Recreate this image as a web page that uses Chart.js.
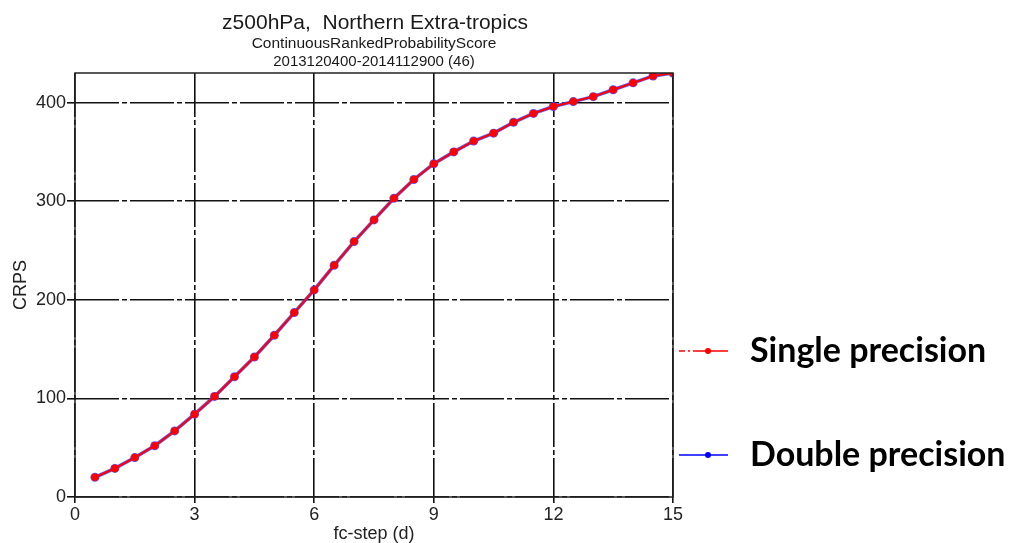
<!DOCTYPE html>
<html>
<head>
<meta charset="utf-8">
<script src="https://cdn.jsdelivr.net/npm/chart.js@4"></script>
<style>
  html, body { margin: 0; padding: 0; background: #fff; }
  #wrap { width: 1015px; height: 543px; }
</style>
</head>
<body>
<div id="wrap"><canvas id="myChart" width="1015" height="543"></canvas></div>
<script>
// forecast step in days
const steps = [0.5, 1, 1.5, 2, 2.5, 3, 3.5, 4, 4.5, 5, 5.5, 6, 6.5, 7, 7.5,
               8, 8.5, 9, 9.5, 10, 10.5, 11, 11.5, 12, 12.5, 13, 13.5, 14, 14.5, 15];
const singleCrps = [20, 29, 40, 52, 67, 84, 102, 122, 142, 164, 187, 210, 235, 259, 281,
                    303, 322, 338, 350, 361, 369, 380, 389, 396, 401, 406, 413, 420, 427, 430];
const doubleCrps = [20, 29, 40, 52, 67, 84, 102, 122, 142, 164, 187, 210, 235, 259, 281,
                    303, 322, 338, 350, 361, 369, 380, 389, 396, 401, 406, 413, 420, 427, 430];
const xTicks = [0, 3, 6, 9, 12, 15];
const yTicks = [0, 100, 200, 300, 400];
const seriesNames = ['Single precision', 'Double precision'];

const ctx = document.getElementById('myChart').getContext('2d');
const helv = '"Liberation Sans", Arial, sans-serif';

const pts = vals => steps.map((s, i) => ({ x: s, y: vals[i] }));

// titles, frame and the big legend on the right
const extras = {
  id: 'extras',
  beforeDraw(chart) {
    const c = chart.ctx;
    const a = chart.chartArea;
    const mid = (a.left + a.right) / 2;
    c.save();
    c.fillStyle = '#1a1a1a';
    c.textAlign = 'center';
    c.textBaseline = 'alphabetic';
    c.font = '21px ' + helv;
    c.fillText('z500hPa,  Northern Extra-tropics', mid + 1, 29);
    c.font = '15.5px ' + helv;
    c.fillText('ContinuousRankedProbabilityScore', mid, 48);
    c.font = '15px ' + helv;
    c.fillText('2013120400-2014112900 (46)', mid, 66);
    c.restore();
  },
  afterDatasetsDraw(chart) {
    const c = chart.ctx;
    const a = chart.chartArea;
    c.save();
    c.strokeStyle = '#222';
    c.lineWidth = 1.5;
    c.strokeRect(a.left, a.top, a.right - a.left, a.bottom - a.top);

    const rows = [
      { y: 351, color: '#ff0000' },
      { y: 455, color: '#0000ff' }
    ];
    rows.forEach((it, i) => {
      c.strokeStyle = it.color;
      c.lineWidth = 1.5;
      if (i === 0) {
        // dash-dot start, like the reference key
        c.beginPath();
        c.moveTo(679, it.y); c.lineTo(685, it.y);
        c.moveTo(688, it.y); c.lineTo(690, it.y);
        c.moveTo(693, it.y); c.lineTo(728, it.y);
        c.stroke();
      } else {
        c.beginPath();
        c.moveTo(679, it.y); c.lineTo(728, it.y);
        c.stroke();
      }
      c.fillStyle = it.color;
      c.beginPath();
      c.arc(708, it.y, 3, 0, Math.PI * 2);
      c.fill();
      c.fillStyle = '#000';
      c.font = 'bold 34px Lato, "Open Sans", sans-serif';
      c.textBaseline = 'middle';
      c.textAlign = 'left';
      c.fillText(seriesNames[i], 750, it.y);
    });
    c.restore();
  }
};

new Chart(ctx, {
  type: 'line',
  data: {
    datasets: [
      {
        label: seriesNames[1],
        data: pts(doubleCrps),
        borderColor: 'rgba(70,70,255,0.9)',
        backgroundColor: 'rgba(70,70,255,0.9)',
        borderWidth: 3.5,
        pointRadius: 4.5,
        pointBorderWidth: 0,
        tension: 0,
        order: 2
      },
      {
        label: seriesNames[0],
        data: pts(singleCrps),
        borderColor: '#ff0000',
        backgroundColor: '#ff0000',
        borderWidth: 2,
        pointRadius: 3.8,
        pointBorderWidth: 0,
        tension: 0,
        order: 1
      }
    ]
  },
  options: {
    responsive: false,
    animation: false,
    layout: { padding: { top: 73, right: 342, left: 0, bottom: 0 } },
    plugins: {
      legend: { display: false },
      tooltip: { enabled: false }
    },
    scales: {
      x: {
        type: 'linear',
        min: 0,
        max: 15,
        afterBuildTicks: s => { s.ticks = xTicks.map(v => ({ value: v })); },
        afterFit: s => { s.height = 46; },
        ticks: { color: '#222', font: { family: helv, size: 18 }, padding: 1, maxRotation: 0 },
        grid: { color: '#111', lineWidth: 1.6, drawTicks: true, tickLength: 6, tickColor: '#111' },
        border: { display: false, dash: [44, 3, 5, 3] },
        title: { display: true, text: 'fc-step (d)', color: '#222', font: { family: helv, size: 18 }, padding: { top: 0, bottom: -2 } }
      },
      y: {
        type: 'linear',
        min: 0,
        max: 430,
        afterBuildTicks: s => { s.ticks = yTicks.map(v => ({ value: v })); },
        afterFit: s => { s.width = 75; },
        ticks: { color: '#222', font: { family: helv, size: 18 }, padding: 1 },
        grid: { color: '#111', lineWidth: 1.6, drawTicks: true, tickLength: 8, tickColor: '#111' },
        border: { display: false, dash: [44, 3, 5, 3] },
        title: { display: true, text: 'CRPS', color: '#222', font: { family: helv, size: 18 }, padding: { top: 10, bottom: 0 } }
      }
    }
  },
  plugins: [extras]
});
</script>
</body>
</html>
